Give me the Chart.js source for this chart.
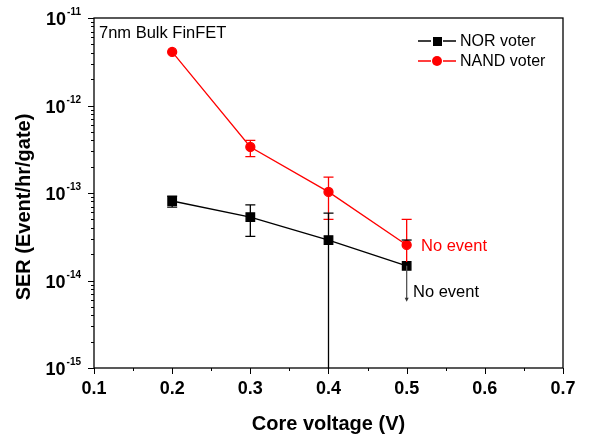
<!DOCTYPE html>
<html>
<head>
<meta charset="utf-8">
<script src="https://cdn.jsdelivr.net/npm/chart.js@4"></script>
<style>
  html, body { margin: 0; padding: 0; background: #fff; }
  #wrap { width: 591px; height: 437px; }
</style>
</head>
<body>
<div id="wrap"><canvas id="ser-chart" width="591" height="437"></canvas></div>
<script>
// core voltage (V)
const voltages = [0.2, 0.3, 0.4, 0.5];

// NOR voter SER and error bounds
const norSer = [8.1e-14, 5.3e-14, 2.9e-14, 1.47e-14];
const norHigh = [9.2e-14, 7.3e-14, 5.9e-14, 2.9e-14];
const norLow = [6.9e-14, 3.2e-14, 1e-16, null];

// NAND voter SER and error bounds
const nandSer = [4.1e-12, 3.36e-13, 1.03e-13, 2.55e-14];
const nandHigh = [4.1e-12, 4.0e-13, 1.52e-13, 5.0e-14];
const nandLow = [4.1e-12, 2.6e-13, 5.0e-14, 1.63e-14];

// "no event" arrow end for NOR at 0.5 V
const norArrowEnd = 5.7e-15;

const xTicks = [0.1, 0.2, 0.3, 0.4, 0.5, 0.6, 0.7];
const yExponents = [-11, -12, -13, -14, -15];

const FONT = '"Liberation Sans", Arial, sans-serif';

function pairs(xs, ys) {
    return xs.map((x, i) => ({ x: x, y: ys[i] }));
}

const axesPlugin = {
    id: 'axesAndExtras',
    afterDatasetsDraw(chart) {
        const ctx = chart.ctx;
        const xs = chart.scales.x;
        const ys = chart.scales.y;
        const a = chart.chartArea;

        // error bars
        ctx.save();
        ctx.beginPath();
        ctx.rect(a.left, a.top, a.right - a.left, a.bottom - a.top + 1);
        ctx.clip();
        function bar(x, lo, hi, color, capLo, capHi) {
            const px = xs.getPixelForValue(x);
            const yHi = ys.getPixelForValue(hi);
            const yLo = lo ? ys.getPixelForValue(lo) : ys.getPixelForValue(hi);
            ctx.strokeStyle = color;
            ctx.lineWidth = 1.3;
            ctx.beginPath();
            ctx.moveTo(px, yHi); ctx.lineTo(px, yLo);
            if (capHi) { ctx.moveTo(px - 5, yHi); ctx.lineTo(px + 5, yHi); }
            if (capLo && lo) { ctx.moveTo(px - 5, yLo); ctx.lineTo(px + 5, yLo); }
            ctx.stroke();
        }
        voltages.forEach((v, i) => {
            if (nandHigh[i] !== nandLow[i]) bar(v, nandLow[i], nandHigh[i], '#ff0000', i < 3, true);
        });
        voltages.forEach((v, i) => {
            bar(v, norLow[i], norHigh[i], '#000', i < 2, true);
        });
        // NOR "no event" downward arrow
        const ax = xs.getPixelForValue(0.5);
        const ay0 = ys.getPixelForValue(norSer[3]);
        const ay1 = ys.getPixelForValue(norArrowEnd);
        ctx.strokeStyle = '#555';
        ctx.fillStyle = '#333';
        ctx.lineWidth = 1.3;
        ctx.beginPath();
        ctx.moveTo(ax, ay0); ctx.lineTo(ax, ay1 - 3);
        ctx.stroke();
        ctx.beginPath();
        ctx.moveTo(ax - 2, ay1 - 4); ctx.lineTo(ax + 2, ay1 - 4); ctx.lineTo(ax, ay1);
        ctx.closePath();
        ctx.fill();
        ctx.restore();

        // frame
        ctx.save();
        ctx.strokeStyle = '#000';
        ctx.lineWidth = 1.3;
        ctx.strokeRect(a.left, a.top, a.right - a.left, a.bottom - a.top);

        // x ticks
        ctx.lineWidth = 1;
        ctx.beginPath();
        for (let v = 0.1; v <= 0.7001; v += 0.05) {
            const px = Math.round(xs.getPixelForValue(v)) + 0.5;
            const major = Math.abs(Math.round(v * 10) - v * 10) < 1e-6;
            ctx.moveTo(px, a.bottom);
            ctx.lineTo(px, a.bottom + (major ? 6 : 3));
        }
        // y ticks
        for (let e = -15; e < -11; e++) {
            for (let m = 1; m <= 9; m++) {
                const py = Math.round(ys.getPixelForValue(m * Math.pow(10, e))) + 0.5;
                ctx.moveTo(a.left, py);
                ctx.lineTo(a.left - (m === 1 ? 6 : 3), py);
            }
        }
        const pTop = Math.round(ys.getPixelForValue(1e-11)) + 0.5;
        ctx.moveTo(a.left, pTop); ctx.lineTo(a.left - 6, pTop);
        ctx.stroke();

        // x tick labels
        ctx.fillStyle = '#000';
        ctx.font = 'bold 18px ' + FONT;
        ctx.textAlign = 'center';
        ctx.textBaseline = 'top';
        xTicks.forEach(v => {
            ctx.fillText(v.toFixed(1), xs.getPixelForValue(v), a.bottom + 12);
        });

        // y tick labels 10^n
        yExponents.forEach(e => {
            const py = ys.getPixelForValue(Math.pow(10, e));
            ctx.font = 'bold 10px ' + FONT;
            const sup = String(e);
            const supW = ctx.measureText(sup).width;
            ctx.textAlign = 'left';
            ctx.textBaseline = 'alphabetic';
            const right = a.left - 13;
            ctx.fillText(sup, right - supW, py - 3);
            ctx.font = 'bold 18px ' + FONT;
            const baseW = ctx.measureText('10').width;
            ctx.fillText('10', right - supW - baseW - 1, py + 7);
        });

        // axis titles
        ctx.font = 'bold 20px ' + FONT;
        ctx.textAlign = 'center';
        ctx.textBaseline = 'middle';
        ctx.fillText('Core voltage (V)', (a.left + a.right) / 2, 424);
        ctx.save();
        ctx.translate(24, 207);
        ctx.rotate(-Math.PI / 2);
        ctx.fillText('SER (Event/hr/gate)', 0, 0);
        ctx.restore();

        // annotations
        ctx.font = '16.5px ' + FONT;
        ctx.textAlign = 'left';
        ctx.textBaseline = 'middle';
        ctx.fillStyle = '#000';
        ctx.fillText('7nm Bulk FinFET', 99, 33);
        ctx.fillStyle = '#ff0000';
        ctx.fillText('No event', 421, 246);
        ctx.fillStyle = '#000';
        ctx.fillText('No event', 413, 292);

        // legend
        ctx.font = '16px ' + FONT;
        const items = [
            { label: 'NOR voter', color: '#000', shape: 'rect', y: 41 },
            { label: 'NAND voter', color: '#ff0000', shape: 'circle', y: 61 }
        ];
        items.forEach(it => {
            ctx.strokeStyle = it.color;
            ctx.fillStyle = it.color;
            ctx.lineWidth = 1.3;
            ctx.beginPath();
            ctx.moveTo(418, it.y); ctx.lineTo(431, it.y);
            ctx.moveTo(443, it.y); ctx.lineTo(456, it.y);
            ctx.stroke();
            if (it.shape === 'rect') {
                ctx.fillRect(433, it.y - 4, 9, 9);
            } else {
                ctx.beginPath();
                ctx.arc(437, it.y, 5, 0, Math.PI * 2);
                ctx.fill();
            }
            ctx.fillStyle = '#000';
            ctx.fillText(it.label, 460, it.y + 1);
        });
        ctx.restore();
    }
};

new Chart(document.getElementById('ser-chart').getContext('2d'), {
    type: 'line',
    data: {
        datasets: [
            {
                label: 'NAND voter',
                data: pairs(voltages, nandSer),
                borderColor: '#ff0000',
                backgroundColor: '#ff0000',
                borderWidth: 1.3,
                pointStyle: 'circle',
                pointRadius: 4.5,
                pointHoverRadius: 4.5
            },
            {
                label: 'NOR voter',
                data: pairs(voltages, norSer),
                borderColor: '#000',
                backgroundColor: '#000',
                borderWidth: 1.3,
                pointStyle: 'rect',
                pointRadius: 6,
                pointHoverRadius: 6
            }
        ]
    },
    options: {
        responsive: false,
        animation: false,
        layout: { padding: { left: 94, right: 28, top: 18, bottom: 69 } },
        plugins: {
            legend: { display: false },
            tooltip: { enabled: false }
        },
        scales: {
            x: { type: 'linear', min: 0.1, max: 0.7, display: false },
            y: { type: 'logarithmic', min: 1e-15, max: 1e-11, display: false }
        }
    },
    plugins: [axesPlugin]
});
</script>
</body>
</html>
